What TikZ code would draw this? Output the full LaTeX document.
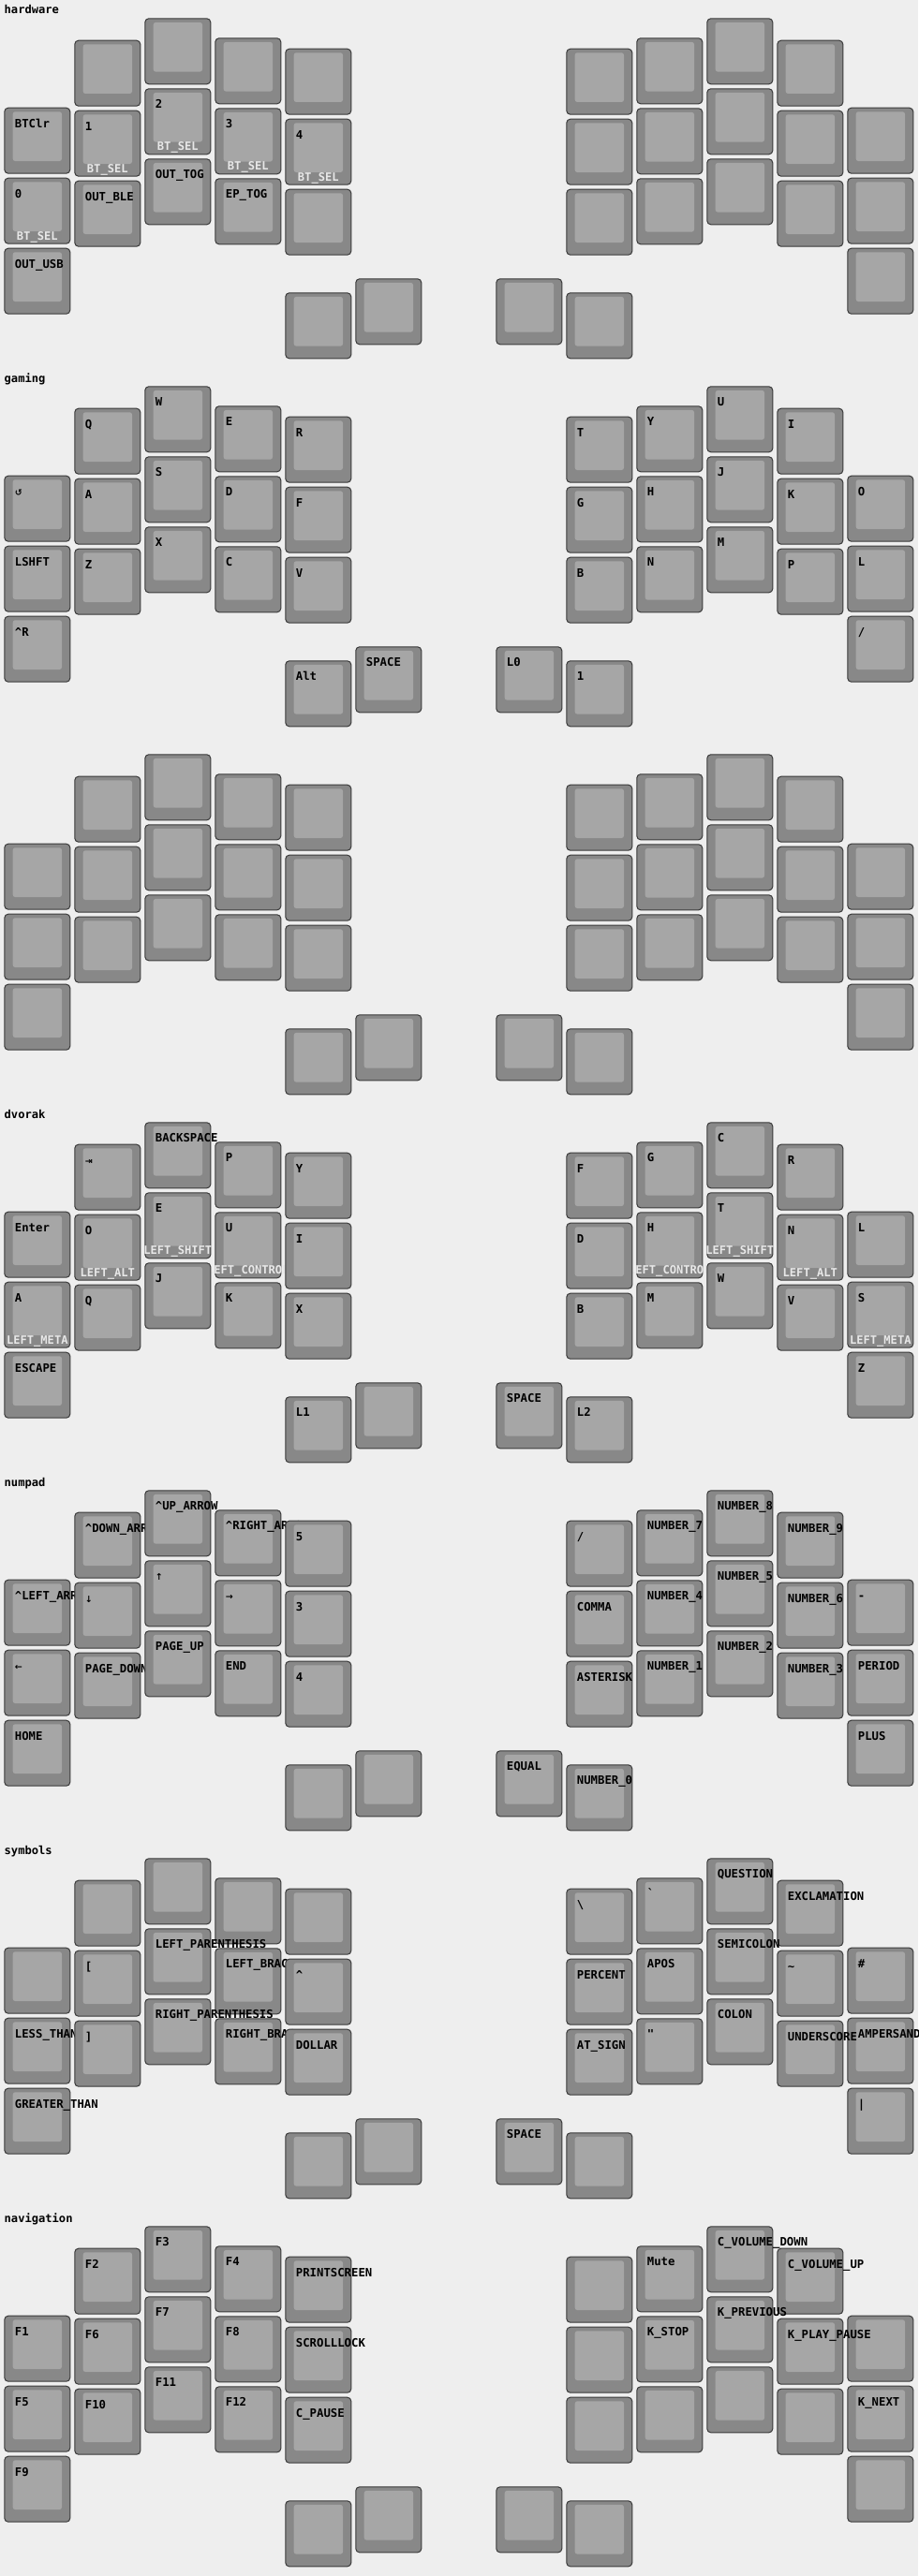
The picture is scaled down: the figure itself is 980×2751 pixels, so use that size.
\documentclass[tikz,border=0pt]{standalone}
\usepackage{fontspec}
\newfontfamily\kf{DejaVu Sans Mono}
\newfontfamily\symf{DejaVu Sans}
\definecolor{bg}{HTML}{EEEEEE}
\definecolor{keyo}{HTML}{888888}
\definecolor{keyi}{HTML}{A6A6A6}
\definecolor{keyb}{HTML}{3A3A3A}
\definecolor{subl}{HTML}{E8E8E8}
\tikzset{
  keyout/.style={fill=keyo, draw=keyb, line width=1pt, rounded corners=4pt},
  keyin/.style={fill=keyi, rounded corners=2.5pt},
  toplab/.style={anchor=base west, inner sep=0pt, font=\kf\bfseries\fontsize{12.3}{14}\selectfont, text=black},
  botlab/.style={anchor=base, inner sep=0pt, font=\kf\bfseries\fontsize{12.1}{14}\selectfont, text=subl},
  ltitle/.style={anchor=base west, inner sep=0pt, font=\kf\bfseries\fontsize{12.1}{14}\selectfont, text=black}
}
\newcommand\SY[1]{{\symf\bfseries\fontsize{9.5}{12}\selectfont #1}}
\newcommand\ctop[1]{\ifcase\numexpr#1\relax 39.7\or 42.7\or 19.3\or 40.3\or 51.7\or 0\or 0\or 0\or 51.7\or 40.3\or 19.3\or 42.7\or 39.7\fi}
\newcommand\kcap[4]{%
  \draw[keyout] ({#1+0.5},{#2+0.5}) rectangle ++(70,70);
  \fill[keyin] ({#1+9.4},{#2+4.6}) rectangle ({#1+61.7},{#2+57.3});
  \def\ttmp{#3}\ifx\ttmp\empty\else\node[toplab] at ({#1+11.4},{#2+21.5}) {#3};\fi
  \def\btmp{#4}\ifx\btmp\empty\else\node[botlab] at ({#1+35.5},{#2+66.6}) {#4};\fi
}
\newcommand\K[4]{%
  \edef\cto{\ctop{#1}}%
  \pgfmathsetmacro\kx{4.3+75*#1}%
  \pgfmathsetmacro\ky{\LY+\cto+75*#2}%
  \kcap{\kx}{\ky}{#3}{#4}}
\newcommand\TA[2]{\kcap{304.3}{\LY+312.3}{#1}{#2}}
\newcommand\TB[2]{\kcap{379.3}{\LY+297.3}{#1}{#2}}
\newcommand\TBr[2]{\kcap{529.3}{\LY+297.3}{#1}{#2}}
\newcommand\TAr[2]{\kcap{604.3}{\LY+312.3}{#1}{#2}}
\newcommand\ltit[1]{\node[ltitle] at (4.5,\LY+15) {#1};}
\begin{document}
\begin{tikzpicture}[x=1pt,y=-1pt]
\useasboundingbox (0,0) rectangle (980,2751);
\clip (0,0) rectangle (980,2751);
\fill[bg] (0,0) rectangle (980,2751);

% ---------------- hardware
\def\LY{0}
\ltit{hardware}
\K{1}{0}{}{}\K{2}{0}{}{}\K{3}{0}{}{}\K{4}{0}{}{}
\K{0}{1}{BTClr}{}\K{1}{1}{1}{BT\_SEL}\K{2}{1}{2}{BT\_SEL}\K{3}{1}{3}{BT\_SEL}\K{4}{1}{4}{BT\_SEL}
\K{0}{2}{0}{BT\_SEL}\K{1}{2}{OUT\_BLE}{}\K{2}{2}{OUT\_TOG}{}\K{3}{2}{EP\_TOG}{}\K{4}{2}{}{}
\K{0}{3}{OUT\_USB}{}
\TA{}{}\TB{}{}
\K{11}{0}{}{}\K{10}{0}{}{}\K{9}{0}{}{}\K{8}{0}{}{}
\K{12}{1}{}{}\K{11}{1}{}{}\K{10}{1}{}{}\K{9}{1}{}{}\K{8}{1}{}{}
\K{12}{2}{}{}\K{11}{2}{}{}\K{10}{2}{}{}\K{9}{2}{}{}\K{8}{2}{}{}
\K{12}{3}{}{}
\TAr{}{}\TBr{}{}

% ---------------- gaming
\def\LY{393}
\ltit{gaming}
\K{1}{0}{Q}{}\K{2}{0}{W}{}\K{3}{0}{E}{}\K{4}{0}{R}{}
\K{0}{1}{\SY{↺}}{}\K{1}{1}{A}{}\K{2}{1}{S}{}\K{3}{1}{D}{}\K{4}{1}{F}{}
\K{0}{2}{LSHFT}{}\K{1}{2}{Z}{}\K{2}{2}{X}{}\K{3}{2}{C}{}\K{4}{2}{V}{}
\K{0}{3}{\char"5E R}{}
\TA{Alt}{}\TB{SPACE}{}
\K{11}{0}{I}{}\K{10}{0}{U}{}\K{9}{0}{Y}{}\K{8}{0}{T}{}
\K{12}{1}{O}{}\K{11}{1}{K}{}\K{10}{1}{J}{}\K{9}{1}{H}{}\K{8}{1}{G}{}
\K{12}{2}{L}{}\K{11}{2}{P}{}\K{10}{2}{M}{}\K{9}{2}{N}{}\K{8}{2}{B}{}
\K{12}{3}{/}{}
\TAr{1}{}\TBr{L0}{}

% ---------------- (unnamed)
\def\LY{786}
\K{1}{0}{}{}\K{2}{0}{}{}\K{3}{0}{}{}\K{4}{0}{}{}
\K{0}{1}{}{}\K{1}{1}{}{}\K{2}{1}{}{}\K{3}{1}{}{}\K{4}{1}{}{}
\K{0}{2}{}{}\K{1}{2}{}{}\K{2}{2}{}{}\K{3}{2}{}{}\K{4}{2}{}{}
\K{0}{3}{}{}
\TA{}{}\TB{}{}
\K{11}{0}{}{}\K{10}{0}{}{}\K{9}{0}{}{}\K{8}{0}{}{}
\K{12}{1}{}{}\K{11}{1}{}{}\K{10}{1}{}{}\K{9}{1}{}{}\K{8}{1}{}{}
\K{12}{2}{}{}\K{11}{2}{}{}\K{10}{2}{}{}\K{9}{2}{}{}\K{8}{2}{}{}
\K{12}{3}{}{}
\TAr{}{}\TBr{}{}

% ---------------- dvorak
\def\LY{1179}
\ltit{dvorak}
\K{1}{0}{\SY{⇥}}{}\K{2}{0}{BACKSPACE}{}\K{3}{0}{P}{}\K{4}{0}{Y}{}
\K{0}{1}{Enter}{}\K{1}{1}{O}{LEFT\_ALT}\K{2}{1}{E}{LEFT\_SHIFT}\K{3}{1}{U}{LEFT\_CONTROL}\K{4}{1}{I}{}
\K{0}{2}{A}{LEFT\_META}\K{1}{2}{Q}{}\K{2}{2}{J}{}\K{3}{2}{K}{}\K{4}{2}{X}{}
\K{0}{3}{ESCAPE}{}
\TA{L1}{}\TB{}{}
\K{11}{0}{R}{}\K{10}{0}{C}{}\K{9}{0}{G}{}\K{8}{0}{F}{}
\K{12}{1}{L}{}\K{11}{1}{N}{LEFT\_ALT}\K{10}{1}{T}{LEFT\_SHIFT}\K{9}{1}{H}{LEFT\_CONTROL}\K{8}{1}{D}{}
\K{12}{2}{S}{LEFT\_META}\K{11}{2}{V}{}\K{10}{2}{W}{}\K{9}{2}{M}{}\K{8}{2}{B}{}
\K{12}{3}{Z}{}
\TAr{L2}{}\TBr{SPACE}{}

% ---------------- numpad
\def\LY{1572}
\ltit{numpad}
\K{1}{0}{\char"5E DOWN\_ARROW}{}\K{2}{0}{\char"5E UP\_ARROW}{}\K{3}{0}{\char"5E RIGHT\_ARROW}{}\K{4}{0}{5}{}
\K{0}{1}{\char"5E LEFT\_ARROW}{}\K{1}{1}{\SY{↓}}{}\K{2}{1}{\SY{↑}}{}\K{3}{1}{\SY{→}}{}\K{4}{1}{3}{}
\K{0}{2}{\SY{←}}{}\K{1}{2}{PAGE\_DOWN}{}\K{2}{2}{PAGE\_UP}{}\K{3}{2}{END}{}\K{4}{2}{4}{}
\K{0}{3}{HOME}{}
\TA{}{}\TB{}{}
\K{11}{0}{NUMBER\_9}{}\K{10}{0}{NUMBER\_8}{}\K{9}{0}{NUMBER\_7}{}\K{8}{0}{/}{}
\K{12}{1}{-}{}\K{11}{1}{NUMBER\_6}{}\K{10}{1}{NUMBER\_5}{}\K{9}{1}{NUMBER\_4}{}\K{8}{1}{COMMA}{}
\K{12}{2}{PERIOD}{}\K{11}{2}{NUMBER\_3}{}\K{10}{2}{NUMBER\_2}{}\K{9}{2}{NUMBER\_1}{}\K{8}{2}{ASTERISK}{}
\K{12}{3}{PLUS}{}
\TAr{NUMBER\_0}{}\TBr{EQUAL}{}

% ---------------- symbols
\def\LY{1965}
\ltit{symbols}
\K{1}{0}{}{}\K{2}{0}{}{}\K{3}{0}{}{}\K{4}{0}{}{}
\K{0}{1}{}{}\K{1}{1}{[}{}\K{2}{1}{LEFT\_PARENTHESIS}{}\K{3}{1}{LEFT\_BRACE}{}\K{4}{1}{\char"5E}{}
\K{0}{2}{LESS\_THAN}{}\K{1}{2}{]}{}\K{2}{2}{RIGHT\_PARENTHESIS}{}\K{3}{2}{RIGHT\_BRACE}{}\K{4}{2}{DOLLAR}{}
\K{0}{3}{GREATER\_THAN}{}
\TA{}{}\TB{}{}
\K{11}{0}{EXCLAMATION}{}\K{10}{0}{QUESTION}{}\K{9}{0}{\char"60}{}\K{8}{0}{\char"5C}{}
\K{12}{1}{\char"23}{}\K{11}{1}{\char"7E}{}\K{10}{1}{SEMICOLON}{}\K{9}{1}{APOS}{}\K{8}{1}{PERCENT}{}
\K{12}{2}{AMPERSAND}{}\K{11}{2}{UNDERSCORE}{}\K{10}{2}{COLON}{}\K{9}{2}{\char"22}{}\K{8}{2}{AT\_SIGN}{}
\K{12}{3}{\char"7C}{}
\TAr{}{}\TBr{SPACE}{}

% ---------------- navigation
\def\LY{2358}
\ltit{navigation}
\K{1}{0}{F2}{}\K{2}{0}{F3}{}\K{3}{0}{F4}{}\K{4}{0}{PRINTSCREEN}{}
\K{0}{1}{F1}{}\K{1}{1}{F6}{}\K{2}{1}{F7}{}\K{3}{1}{F8}{}\K{4}{1}{SCROLLLOCK}{}
\K{0}{2}{F5}{}\K{1}{2}{F10}{}\K{2}{2}{F11}{}\K{3}{2}{F12}{}\K{4}{2}{C\_PAUSE}{}
\K{0}{3}{F9}{}
\TA{}{}\TB{}{}
\K{11}{0}{C\_VOLUME\_UP}{}\K{10}{0}{C\_VOLUME\_DOWN}{}\K{9}{0}{Mute}{}\K{8}{0}{}{}
\K{12}{1}{}{}\K{11}{1}{K\_PLAY\_PAUSE}{}\K{10}{1}{K\_PREVIOUS}{}\K{9}{1}{K\_STOP}{}\K{8}{1}{}{}
\K{12}{2}{K\_NEXT}{}\K{11}{2}{}{}\K{10}{2}{}{}\K{9}{2}{}{}\K{8}{2}{}{}
\K{12}{3}{}{}
\TAr{}{}\TBr{}{}
\end{tikzpicture}
\end{document}
